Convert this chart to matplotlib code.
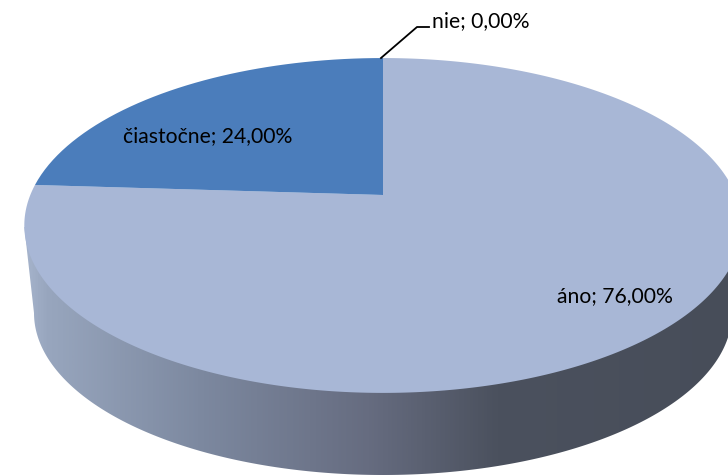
import numpy as np
import matplotlib
matplotlib.use('Agg')
import matplotlib.pyplot as plt
from matplotlib.colors import LinearSegmentedColormap
from matplotlib.patches import Polygon
from matplotlib.path import Path
from matplotlib.transforms import Transform

# Data
categories = ['áno', 'čiastočne', 'nie']
values = [76.0, 24.0, 0.0]
colors = ['#A8B7D6', '#4B7DBB', '#C0504D']

plt.rcParams['font.family'] = ['Lato', 'DejaVu Sans']


# Tilted disc: maps the unit circle of the pie to the picture, in pixels
class Tilted(Transform):
    input_dims = 2
    output_dims = 2

    def transform_non_affine(self, xy):
        xy = np.asarray(xy, dtype=float)
        w = 1 + 0.182 * xy[:, 1]
        return np.column_stack([383 + 352.7 * xy[:, 0] / w,
                                (195 - 126.4 * xy[:, 1]) / w])

    def transform_path_non_affine(self, path):
        # sample the curves, control points do not survive the projection
        pts = []
        for seg, code in path.iter_bezier():
            if code == Path.MOVETO:
                pts.append(seg.control_points[0])
            else:
                pts.extend(seg(np.linspace(0, 1, 24))[1:])
        return Path(self.transform_non_affine(np.array(pts)), closed=True)


fig = plt.figure(figsize=(7.28, 4.75), dpi=100)
ax = fig.add_axes([0, 0, 1, 1])

wedges, _ = ax.pie(values, colors=colors, startangle=90, counterclock=False)
ax.set_aspect('auto')
ax.set_xlim(0, 728)
ax.set_ylim(475, 0)

tilted = Tilted()
for w in wedges:
    w.set_transform(tilted + ax.transData)
    w.set_zorder(3)
    w.set_linewidth(0)

# Side wall of the pie, shaded from left to right
t = np.linspace(0, 2 * np.pi, 721)
top_outline = tilted.transform(np.column_stack([np.cos(t), np.sin(t)]))
top_lower = top_outline[top_outline[:, 1] >= 226]
top_lower = top_lower[np.argsort(top_lower[:, 0])]
b = np.linspace(np.pi, 0, 361)
base = np.column_stack([383 + 349 * np.cos(b), 313 + 162 * np.sin(b)])
wall = Polygon(np.vstack([top_lower[:1], base, top_lower[-1:]]),
               closed=True, transform=ax.transData, fc='none', ec='none')
ax.add_patch(wall)

shade = LinearSegmentedColormap.from_list('shade', [
    (0.0, '#A6B4CC'), (0.03, '#98A6BE'), (0.25, '#7C889F'),
    (0.48, '#666C80'), (0.66, '#4B515E'), (1.0, '#474D59')])
img = ax.imshow(np.linspace(0, 1, 512).reshape(1, -1), cmap=shade,
                extent=(24, 742, 475, 190), aspect='auto', zorder=2)
img.set_clip_path(wall)
ax.set_xlim(0, 728)
ax.set_ylim(475, 0)

# Labels
labels = [f'{c}; {v:.2f}%'.replace('.', ',') for c, v in zip(categories, values)]
ax.text(615, 296, labels[0], fontsize=15.2, color='black', ha='center', va='center', zorder=5)
ax.text(208, 136, labels[1], fontsize=15.2, color='black', ha='center', va='center', zorder=5)
ax.text(481, 21, labels[2], fontsize=15.2, color='black', ha='center', va='center', zorder=5)
ax.plot([381, 417, 429], [58, 27, 27], color='black', lw=1.3, zorder=5, clip_on=False)

plt.savefig('out.png', dpi=100)
